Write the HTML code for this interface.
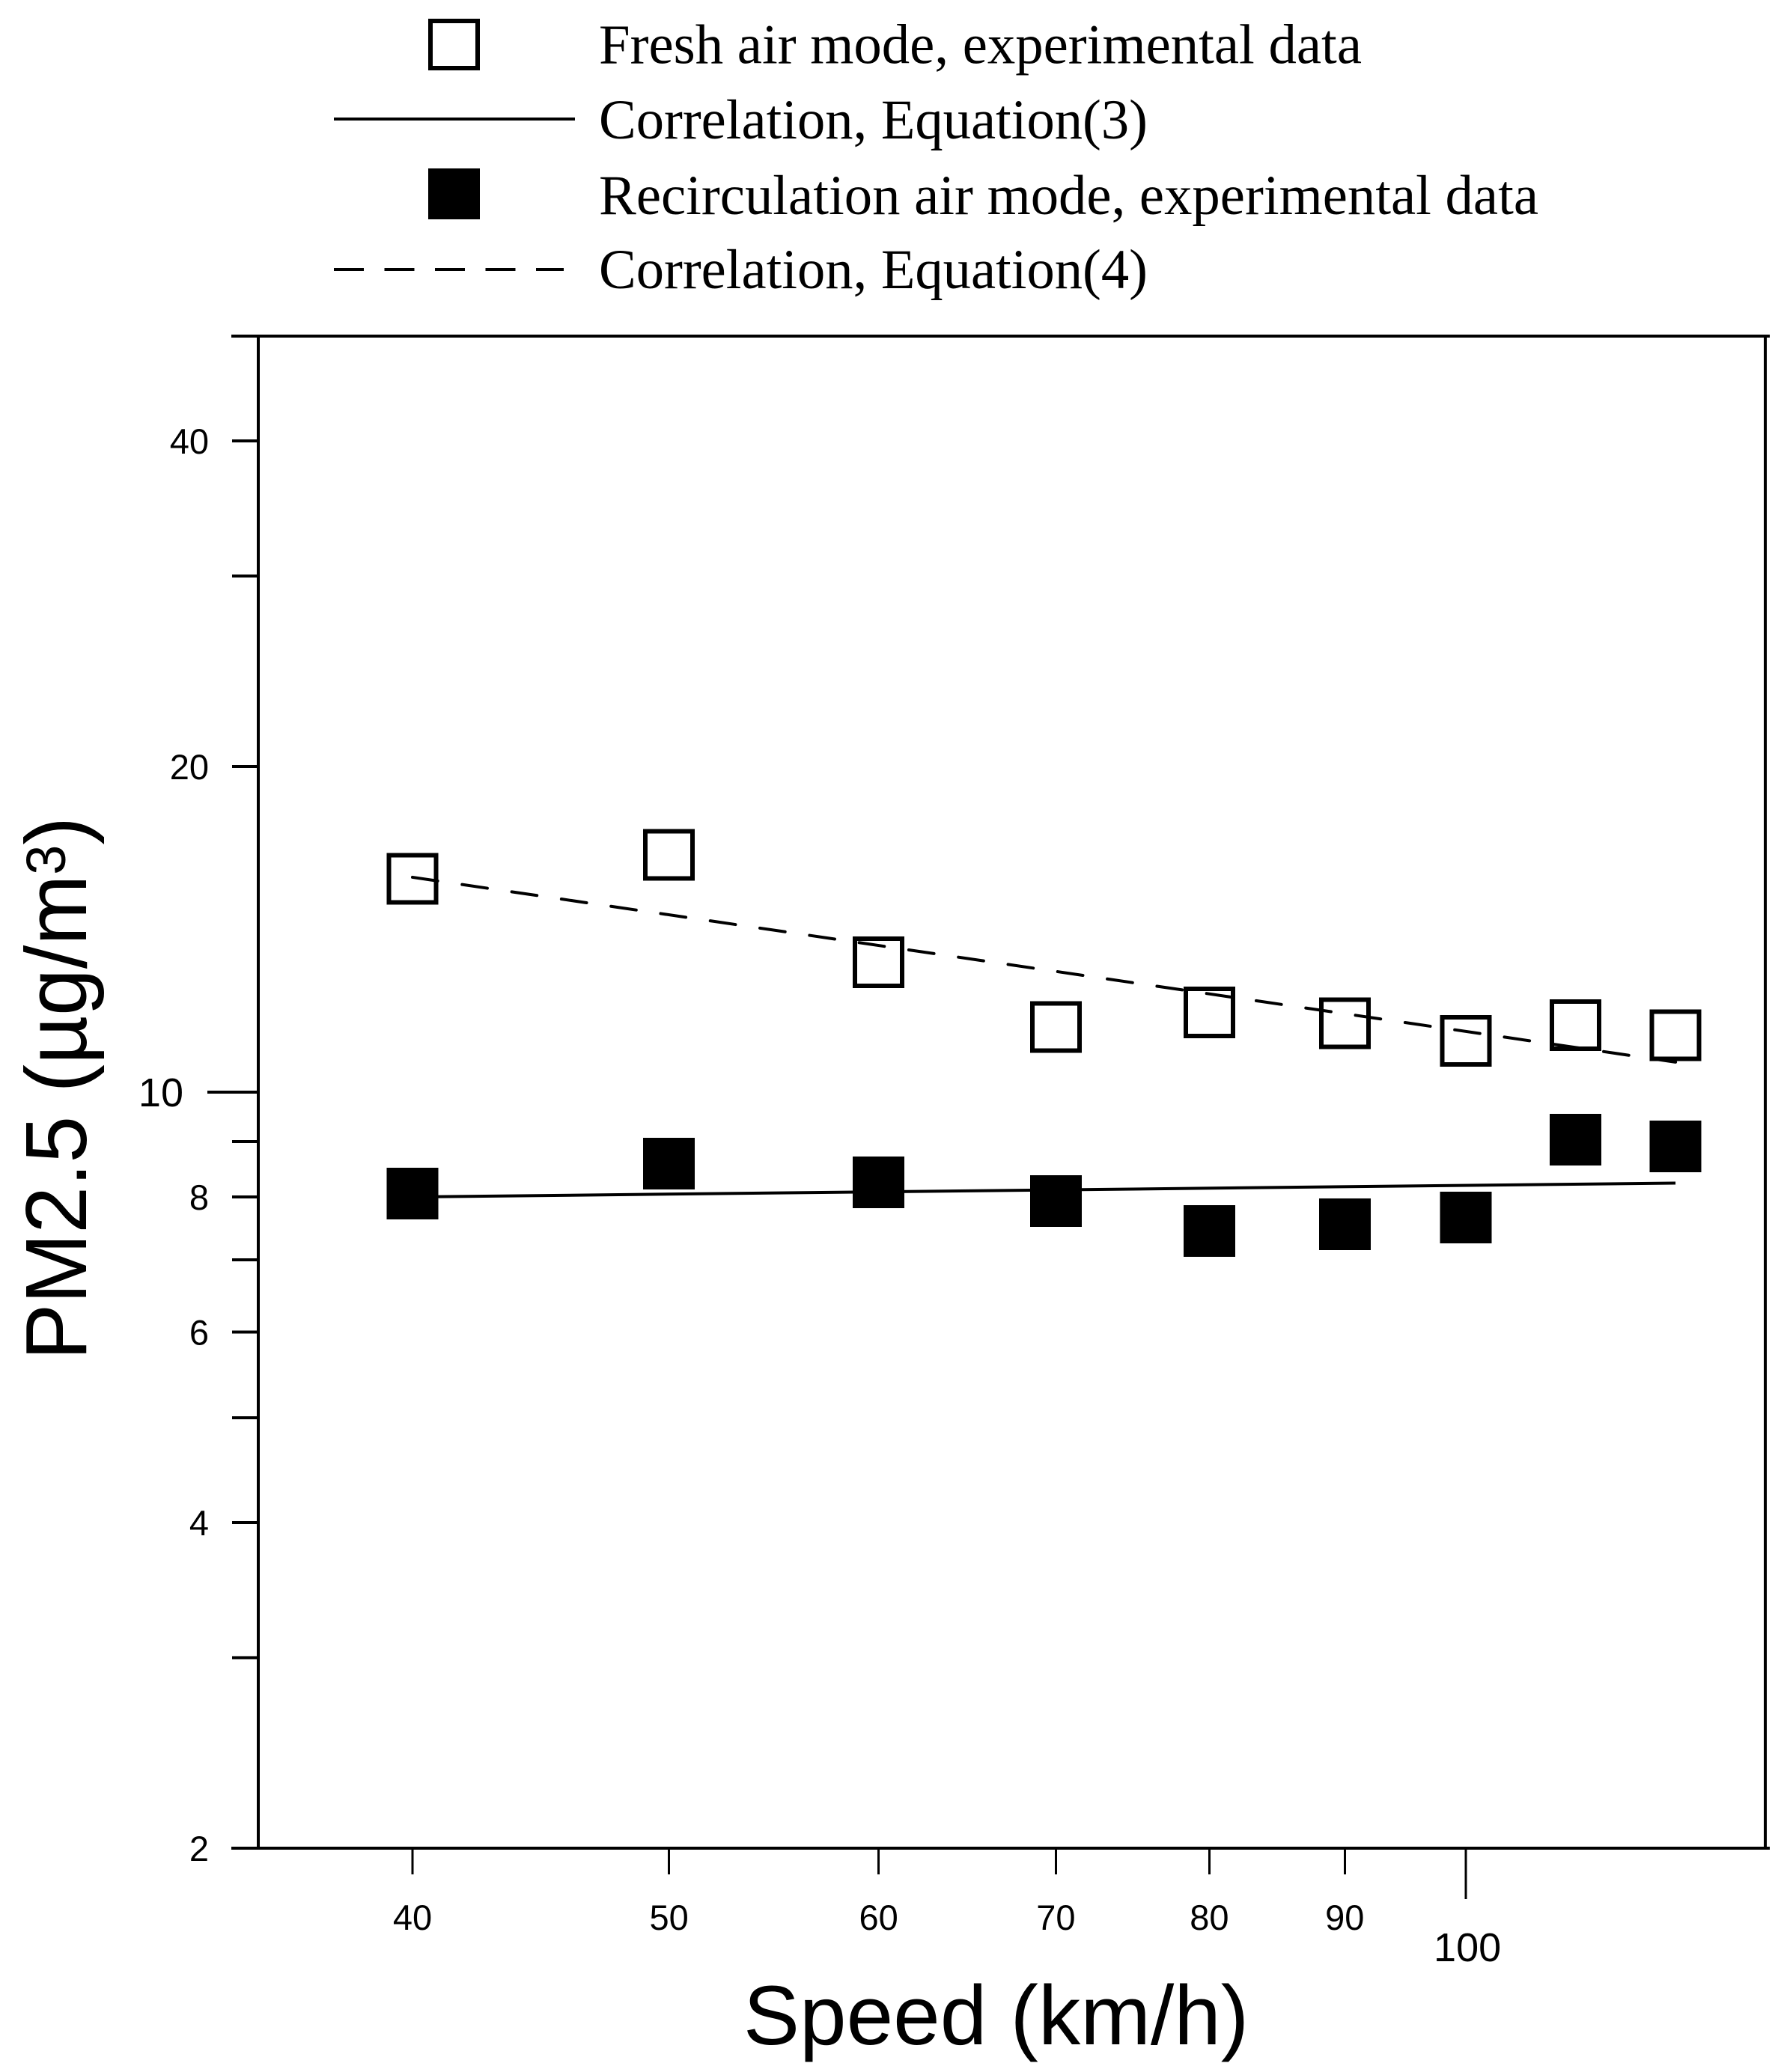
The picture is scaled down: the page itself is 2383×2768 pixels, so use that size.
<!DOCTYPE html>
<html lang="en">
<head>
<meta charset="utf-8">
<title>PM2.5 versus speed</title>
<style>
  html, body { margin: 0; padding: 0; background: #fff; }
  svg { display: block; }
  .sans { font-family: "Liberation Sans", sans-serif; fill: #000; }
  .serif { font-family: "Liberation Serif", serif; fill: #000; }
</style>
</head>
<body>
<svg id="chart" xmlns="http://www.w3.org/2000/svg" width="2383" height="2768" viewBox="0 0 2383 2768">
  <rect x="0" y="0" width="2383" height="2768" fill="#fff"/>

  <g id="legend">
    <rect x="575" y="28" width="63" height="63" fill="#fff" stroke="#000" stroke-width="6" shape-rendering="crispEdges"/>
    <text class="serif" x="800" y="84.5" font-size="75" textLength="1019" lengthAdjust="spacingAndGlyphs">Fresh air mode, experimental data</text>
    <line x1="446" y1="159" x2="768" y2="159" stroke="#000" stroke-width="4" shape-rendering="crispEdges"/>
    <text class="serif" x="800" y="185" font-size="75" textLength="733" lengthAdjust="spacingAndGlyphs">Correlation, Equation(3)</text>
    <rect x="572" y="225" width="69" height="68" fill="#000" shape-rendering="crispEdges"/>
    <text class="serif" x="800" y="286" font-size="75" textLength="1255" lengthAdjust="spacingAndGlyphs">Recirculation air mode, experimental data</text>
    <line x1="446" y1="360" x2="753" y2="360" stroke="#000" stroke-width="4" stroke-dasharray="40 27.5" shape-rendering="crispEdges"/>
    <text class="serif" x="800" y="385" font-size="75" textLength="733" lengthAdjust="spacingAndGlyphs">Correlation, Equation(4)</text>
  </g>

  <g id="axes"></g>
  <g id="series"></g>

  <text class="sans" x="993" y="2731" font-size="112.5">Speed (km/h)</text>
  <text class="sans" transform="translate(115 1817) rotate(-90) scale(0.973 1)" x="0" y="0" font-size="116">PM2.5 (µg/m<tspan font-size="74" dy="-28">3</tspan><tspan dy="28">)</tspan></text>
</svg>

<script>
const speeds = [40, 50, 60, 70, 80, 90, 100, 110, 120];
const freshAir = [15.75, 16.57, 13.18, 11.49, 11.85, 11.58, 11.15, 11.53, 11.29];
const recirculation = [8.06, 8.59, 8.25, 7.93, 7.44, 7.55, 7.66, 9.04, 8.91];
const correlationSpeeds = [40, 120];
const correlationEq3 = [8.0, 8.24];
const correlationEq4 = [15.8, 10.66];
const xTickValues = [40, 50, 60, 70, 80, 90, 100];
const xTickLabels = ['40', '50', '60', '70', '80', '90', '100'];
const yTickValues = [2, 3, 4, 5, 6, 7, 8, 9, 10, 20, 30, 40];
const yTickLabels = ['2', '', '4', '', '6', '', '8', '', '10', '20', '', '40'];
const yAxisMax = 50;

const SVG_NS = 'http://www.w3.org/2000/svg';
const axes = document.getElementById('axes');
const series = document.getElementById('series');

function xScale(v) { return 551 + 3536 * Math.log10(v / 40); }
function yScale(v) { return 2469 - 1445 * Math.log10(v / 2); }

function make(tag, parent, attrs) {
  const el = document.createElementNS(SVG_NS, tag);
  Object.keys(attrs).forEach(function (k) { el.setAttribute(k, attrs[k]); });
  parent.appendChild(el);
  return el;
}

const plotTop = yScale(yAxisMax);
const plotBottom = yScale(2);

const leftAxis = make('line', axes, { x1: 345, y1: plotTop, x2: 345, y2: plotBottom, stroke: '#000', 'stroke-width': 4, 'shape-rendering': 'crispEdges' });


const rightAxis = make('line', axes, { x1: 2358, y1: plotTop, x2: 2358, y2: plotBottom, stroke: '#000', 'stroke-width': 4, 'shape-rendering': 'crispEdges' });


const topAxis = make('line', axes, { x1: 309, y1: plotTop, x2: 2364, y2: plotTop, stroke: '#000', 'stroke-width': 4, 'shape-rendering': 'crispEdges' });


const bottomAxis = make('line', axes, { x1: 309, y1: plotBottom, x2: 2364, y2: plotBottom, stroke: '#000', 'stroke-width': 4, 'shape-rendering': 'crispEdges' });



yTickValues.forEach(function (v, i) {
  const major = v === 10;
  const y = yScale(v);
  const tick = make('line', axes, { x1: major ? 277 : 310, y1: y, x2: 345, y2: y, stroke: '#000', 'stroke-width': 4, 'shape-rendering': 'crispEdges' });
  
  
  if (yTickLabels[i]) {
    const label = make('text', axes, { x: major ? 245 : 279, y: y + (major ? 19 : 17), 'font-size': major ? 54 : 47, 'text-anchor': 'end', class: 'sans' });
    label.textContent = yTickLabels[i];
    
    
  }
});

xTickValues.forEach(function (v, i) {
  const major = v === 100;
  const x = xScale(v);
  const tick = make('line', axes, { x1: x, y1: plotBottom, x2: x, y2: major ? 2537 : 2504, stroke: '#000', 'stroke-width': 3, 'shape-rendering': 'crispEdges' });
  
  
  const label = make('text', axes, { x: x + (major ? 2 : 0), y: major ? 2620 : 2578, 'font-size': major ? 54 : 47, 'text-anchor': 'middle', class: 'sans' });
  label.textContent = xTickLabels[i];
  
  
});

function linePoints(values) {
  return values.map(function (v, i) { return xScale(correlationSpeeds[i]) + ',' + yScale(v); }).join(' ');
}

const openMarkerSize = 63;
const filledMarkerSize = 69;

freshAir.forEach(function (v, i) {
  const x = xScale(speeds[i]);
  const y = yScale(v);
  const marker = make('rect', series, { x: x - openMarkerSize / 2, y: y - openMarkerSize / 2, width: openMarkerSize, height: openMarkerSize, fill: '#fff', stroke: '#000', 'stroke-width': 6, 'shape-rendering': 'crispEdges' });
  
  
});

const eq3Line = make('polyline', series, { points: linePoints(correlationEq3), fill: 'none', stroke: '#000', 'stroke-width': 4 });



const eq4Line = make('polyline', series, { points: linePoints(correlationEq4), fill: 'none', stroke: '#000', 'stroke-width': 4, 'stroke-dasharray': '34 33', 'stroke-linecap': 'round' });



recirculation.forEach(function (v, i) {
  const x = xScale(speeds[i]);
  const y = yScale(v);
  const marker = make('rect', series, { x: x - filledMarkerSize / 2, y: y - filledMarkerSize / 2, width: filledMarkerSize, height: filledMarkerSize, fill: '#000', 'shape-rendering': 'crispEdges' });
  
  
});
</script>
</body>
</html>
